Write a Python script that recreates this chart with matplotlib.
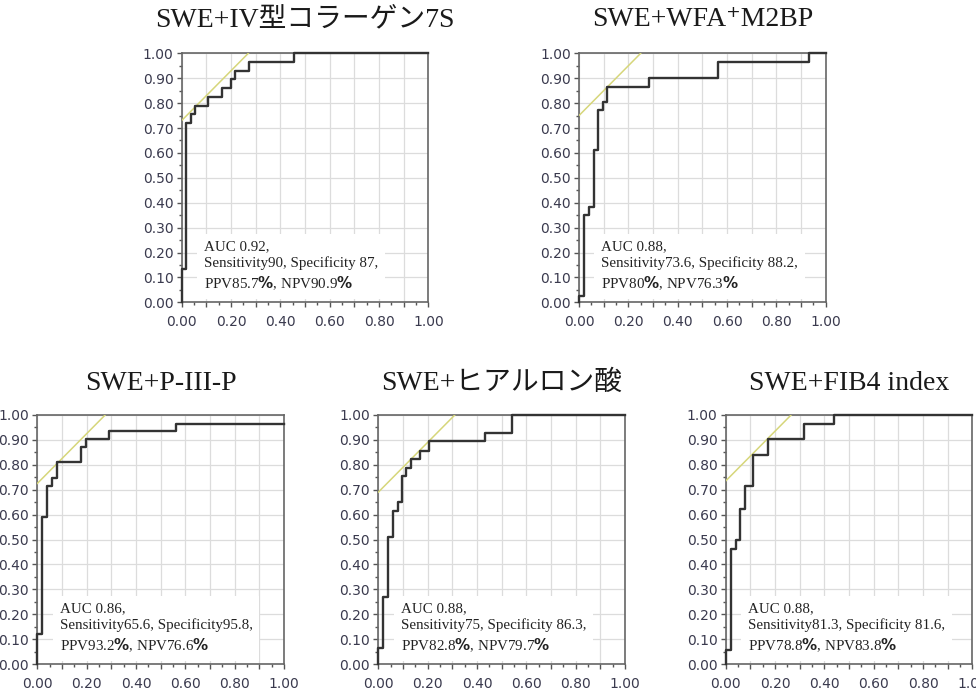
import matplotlib
matplotlib.use("Agg")
import matplotlib.pyplot as plt
from matplotlib.ticker import FixedLocator, FuncFormatter
import numpy as np

plt.rcParams['mathtext.fontset'] = 'custom'
plt.rcParams['mathtext.rm'] = 'Liberation Serif'
plt.rcParams['mathtext.it'] = 'Liberation Serif:italic'
plt.rcParams['mathtext.bf'] = 'DejaVu Sans:bold'

#########################################
# Données
#########################################
titles = ["SWE+IV型コラーゲン7S", "SWE+WFA⁺M2BP", "SWE+P-III-P",
          "SWE+ヒアルロン酸", "SWE+FIB4 index"]

fpr1 = [0, 0, 0.016, 0.036, 0.054, 0.108, 0.165, 0.20, 0.216, 0.274, 0.457, 1.0]
tpr1 = [0, 0.134, 0.722, 0.756, 0.789, 0.826, 0.860, 0.895, 0.929, 0.964, 1.0, 1.0]

fpr2 = [0, 0, 0.02, 0.042, 0.061, 0.078, 0.096, 0.114, 0.283, 0.563, 0.933, 1.0]
tpr2 = [0, 0.027, 0.350, 0.383, 0.611, 0.772, 0.804, 0.866, 0.90, 0.964, 1.0, 1.0]

fpr3 = [0, 0, 0.02, 0.041, 0.061, 0.081, 0.177, 0.196, 0.292, 0.562, 1.0]
tpr3 = [0, 0.120, 0.590, 0.713, 0.746, 0.810, 0.870, 0.902, 0.934, 0.965, 0.965]

fpr4 = [0, 0, 0.02, 0.04, 0.058, 0.078, 0.097, 0.114, 0.132, 0.168, 0.206, 0.431, 0.542, 1.0]
tpr4 = [0, 0.063, 0.271, 0.512, 0.616, 0.652, 0.755, 0.789, 0.824, 0.857, 0.894, 0.926, 1.0, 1.0]

fpr5 = [0, 0, 0.022, 0.04, 0.058, 0.078, 0.112, 0.17, 0.316, 0.441, 1.0]
tpr5 = [0, 0.057, 0.463, 0.496, 0.622, 0.715, 0.838, 0.902, 0.964, 1.0, 1.0]

# ordonnée à l'origine de la droite tangente (pente 1)
tangent_b = [0.73, 0.75, 0.725, 0.69, 0.735]

auc_vals = ["0.92", "0.88", "0.86", "0.88", "0.88"]
sens_vals = ["90", "73.6", "65.6", "75", "81.3"]
spec_vals = [" 87", " 88.2", "95.8", " 86.3", " 81.6"]
ppv_vals = ["85.7", "80", "93.2", "82.8", "78.8"]
npv_vals = ["90.9", "76.3", "76.6", "79.7", "83.8"]

tick_vals = [round(0.1 * i, 2) for i in range(11)]

#########################################
# Figure
#########################################
W, H = 976, 691
fig = plt.figure(figsize=(W / 100, H / 100), dpi=100)

# coins des axes en pixels (gauche, haut)
ax_px = [(181.7, 53.3), (579.0, 53.3), (37.3, 415.0), (378.3, 415.0), (725.7, 415.0)]
AW, AH = 246.7, 249.0

curves = [(fpr1, tpr1), (fpr2, tpr2), (fpr3, tpr3), (fpr4, tpr4), (fpr5, tpr5)]
title_y = [20, 20, 383, 383, 383]

serif = ['Liberation Serif', 'Noto Sans CJK JP', 'DejaVu Sans']
tick_color = '#3a3a4e'

for i, (fpr, tpr) in enumerate(curves):
    left, top = ax_px[i]
    ax = fig.add_axes([left / W, 1 - (top + AH) / H, AW / W, AH / H])
    ax.set_xlim(0, 1)
    ax.set_ylim(0, 1)

    ax.xaxis.set_major_locator(FixedLocator(tick_vals))
    ax.yaxis.set_major_locator(FixedLocator(tick_vals))
    ax.xaxis.set_minor_locator(FixedLocator([v + 0.05 for v in tick_vals[:-1]]))
    ax.yaxis.set_minor_locator(FixedLocator([v + 0.05 for v in tick_vals[:-1]]))
    ax.xaxis.set_major_formatter(
        FuncFormatter(lambda v, p: f"{v:.2f}" if round(v * 10) % 2 == 0 else ""))
    ax.yaxis.set_major_formatter(FuncFormatter(lambda v, p: f"{v:.2f}"))

    ax.tick_params(which='major', direction='out', length=3.6, width=1,
                   color='#555555', labelsize=10, labelcolor=tick_color)
    ax.tick_params(which='minor', direction='out', length=2.2, width=1,
                   color='#555555')
    ax.tick_params(axis='x', pad=5.5)
    ax.tick_params(axis='y', pad=2.2)

    ax.grid(True, which='major', color='#dcdcdc', lw=0.9)
    ax.set_axisbelow(True)
    for sp in ax.spines.values():
        sp.set_color('#666666')
        sp.set_linewidth(1.2)

    b = tangent_b[i]
    ax.plot([0, 1 - b], [b, 1], color='#d6d67a', lw=1.1, zorder=3)

    ax.plot(fpr, tpr, drawstyle='steps-post', color='#333333', lw=1.7,
            zorder=5, clip_on=False)

    txt = (f"AUC {auc_vals[i]},\n"
           f"Sensitivity{sens_vals[i]}, Specificity{spec_vals[i]},\n"
           f"PPV{ppv_vals[i]}$\\mathbf{{\\%}}$, NPV{npv_vals[i]}$\\mathbf{{\\%}}$")
    ax.text(0.09, 0.145, txt, transform=ax.transAxes, ha='left', va='center',
            fontsize=10.8, family=serif, color='#222222', linespacing=1.3,
            zorder=4,
            bbox=dict(facecolor='white', edgecolor='none', pad=5))

    fig.text((left + AW / 2) / W, 1 - title_y[i] / H, titles[i],
             ha='center', va='center', fontsize=20, family=serif,
             color='#1a1a1a')

fig.savefig("out.png", dpi=100)
